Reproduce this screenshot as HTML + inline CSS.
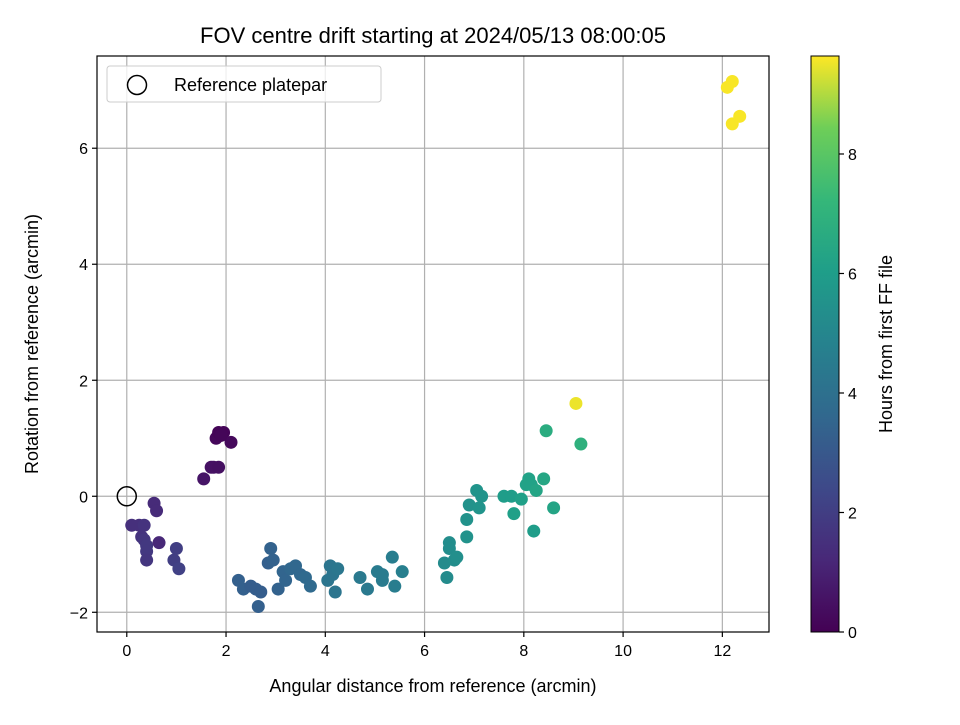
<!DOCTYPE html>
<html><head><meta charset="utf-8"><style>
body{margin:0;background:#fff;}
svg{font-family:"Liberation Sans","DejaVu Sans",sans-serif;}
</style></head><body>
<svg id="chart" width="960" height="720" viewBox="0 0 960 720" xmlns="http://www.w3.org/2000/svg">
<defs>
<linearGradient id="vir" x1="0" y1="1" x2="0" y2="0">
<stop offset="0" stop-color="#440154"/><stop offset="0.125" stop-color="#482878"/>
<stop offset="0.25" stop-color="#3e4989"/><stop offset="0.375" stop-color="#31688e"/>
<stop offset="0.5" stop-color="#26828e"/><stop offset="0.625" stop-color="#1f9e89"/>
<stop offset="0.75" stop-color="#35b779"/><stop offset="0.875" stop-color="#6ece58"/>
<stop offset="1" stop-color="#fde725"/>
</linearGradient>
</defs>
<text x="433" y="43" font-size="22" text-anchor="middle">FOV centre drift starting at 2024/05/13 08:00:05</text>
<g id="grid"></g>
<g id="points"></g>
<rect x="97" y="56" width="672" height="576" fill="none" stroke="#000" stroke-width="1.2"/>
<g id="ticks"></g>
<text x="433" y="692" font-size="18" text-anchor="middle">Angular distance from reference (arcmin)</text>
<text transform="translate(38,344) rotate(-90)" font-size="18" text-anchor="middle">Rotation from reference (arcmin)</text>
<g>
<rect x="107" y="66" width="274" height="36" rx="3" fill="#fff" fill-opacity="0.8" stroke="#ccc"/>
<circle cx="137" cy="85" r="9.5" fill="none" stroke="#000" stroke-width="1.5"/>
<text x="174" y="91" font-size="18">Reference platepar</text>
</g>
<rect x="811" y="56" width="28" height="576" fill="url(#vir)" stroke="#000" stroke-width="1"/>
<g id="cbticks"></g>
<text transform="translate(892,344) rotate(-90)" font-size="18" text-anchor="middle">Hours from first FF file</text>
</svg>
<script>
const xs=[1.55,1.7,1.75,1.85,1.8,1.85,1.95,2.1,1.9,
0.1,0.25,0.35,0.3,0.35,0.4,0.4,0.4,0.55,0.6,0.65,0.95,1.0,1.05,
2.25,2.35,2.5,2.6,2.65,2.7,2.85,2.9,2.95,3.05,3.15,3.2,3.3,3.4,3.5,3.6,3.7,
4.05,4.1,4.15,4.2,4.25,4.7,4.85,5.05,5.15,5.15,5.35,5.4,5.55,
6.4,6.45,6.5,6.5,6.6,6.65,6.85,6.85,6.9,7.05,7.1,7.15,
7.6,7.75,7.8,7.95,8.05,8.1,8.15,8.2,8.25,8.4,8.45,8.6,9.15,
9.05,12.1,12.2,12.2,12.35];
const ys=[0.3,0.5,0.5,0.5,1.0,1.1,1.1,0.93,1.05,
-0.5,-0.5,-0.5,-0.7,-0.75,-0.85,-0.95,-1.1,-0.12,-0.25,-0.8,-1.1,-0.9,-1.25,
-1.45,-1.6,-1.55,-1.6,-1.9,-1.65,-1.15,-0.9,-1.1,-1.6,-1.3,-1.45,-1.25,-1.2,-1.35,-1.4,-1.55,
-1.45,-1.2,-1.35,-1.65,-1.25,-1.4,-1.6,-1.3,-1.45,-1.35,-1.05,-1.55,-1.3,
-1.15,-1.4,-0.8,-0.9,-1.1,-1.05,-0.4,-0.7,-0.15,0.1,-0.2,0,
0,0,-0.3,-0.05,0.2,0.3,0.2,-0.6,0.1,0.3,1.13,-0.2,0.9,
1.6,7.05,7.15,6.42,6.55];
const hours=[0.6,0.5,0.5,0.45,0.2,0.1,0.1,0.25,0.15,
1.5,1.5,1.6,1.6,1.7,1.8,1.8,1.7,1.3,1.3,1.2,2.0,2.0,2.1,
3.3,3.3,3.2,3.2,3.3,3.2,3.3,3.4,3.4,3.4,3.5,3.5,3.6,3.6,3.6,3.7,3.7,
4.2,4.2,4.2,4.2,4.3,4.4,4.4,4.5,4.5,4.5,4.6,4.6,4.7,
5.2,5.2,5.3,5.3,5.3,5.4,5.5,5.5,5.5,5.6,5.6,5.6,
6.0,6.0,6.1,6.1,6.2,6.2,6.2,6.0,6.3,6.4,6.7,6.3,6.9,
9.5,9.6,9.6,9.6,9.6];
const xTicks=[0,2,4,6,8,10,12];
const yTicks=[-2,0,2,4,6];
const cTicks=[0,2,4,6,8];
const HMAX=9.64;
const NS="http://www.w3.org/2000/svg";
const L=97,R=769,T=56,B=632,X0=-0.6,X1=12.94,Y0=-2.34,Y1=7.59;
const sx=v=>L+(v-X0)/(X1-X0)*(R-L);
const sy=v=>B-(v-Y0)/(Y1-Y0)*(B-T);
const sc=v=>B-v/HMAX*(B-T);
const vir=[[68,1,84],[72,40,120],[62,73,137],[49,104,142],[38,130,142],[31,158,137],[53,183,121],[110,206,88],[253,231,37]];
function col(h){let t=Math.max(0,Math.min(1,h/HMAX))*8;let i=Math.min(7,Math.floor(t)),f=t-i;let a=vir[i],b=vir[i+1];return 'rgb('+a.map((c,k)=>Math.round(c+(b[k]-c)*f)).join(',')+')';}
function mk(tag,attrs,parent){const e=document.createElementNS(NS,tag);for(const k in attrs)e.setAttribute(k,attrs[k]);parent.appendChild(e);return e;}
const grid=document.getElementById('grid'),ticks=document.getElementById('ticks'),pts=document.getElementById('points'),cb=document.getElementById('cbticks');
xTicks.forEach(v=>{const x=sx(v);
const g=mk('line',{x1:x,x2:x,y1:T,y2:B,stroke:'#b0b0b0','stroke-width':1.2},grid);

const t=mk('line',{x1:x,x2:x,y1:B,y2:B+5,stroke:'#000','stroke-width':1.2},ticks);

const l=mk('text',{x:x,y:B+24,'font-size':16,'text-anchor':'middle'},ticks);l.textContent=v;
});
yTicks.forEach(v=>{const y=sy(v);
const g=mk('line',{x1:L,x2:R,y1:y,y2:y,stroke:'#b0b0b0','stroke-width':1.2},grid);

const t=mk('line',{x1:L-5,x2:L,y1:y,y2:y,stroke:'#000','stroke-width':1.2},ticks);

const l=mk('text',{x:L-9,y:y+6,'font-size':16,'text-anchor':'end'},ticks);l.textContent=v<0?'\u2212'+(-v):v;
});
xs.forEach((v,i)=>{const c=mk('circle',{cx:sx(v),cy:sy(ys[i]),r:6.5,fill:col(hours[i])},pts);
});
const ref=mk('circle',{cx:sx(0),cy:sy(0),r:9.5,fill:'none',stroke:'#000','stroke-width':1.5},pts);

cTicks.forEach(v=>{const y=sc(v);
const t=mk('line',{x1:839,x2:844,y1:y,y2:y,stroke:'#000','stroke-width':1.2},cb);

const l=mk('text',{x:848,y:y+6,'font-size':16},cb);l.textContent=v;
});
</script>
</body></html>
